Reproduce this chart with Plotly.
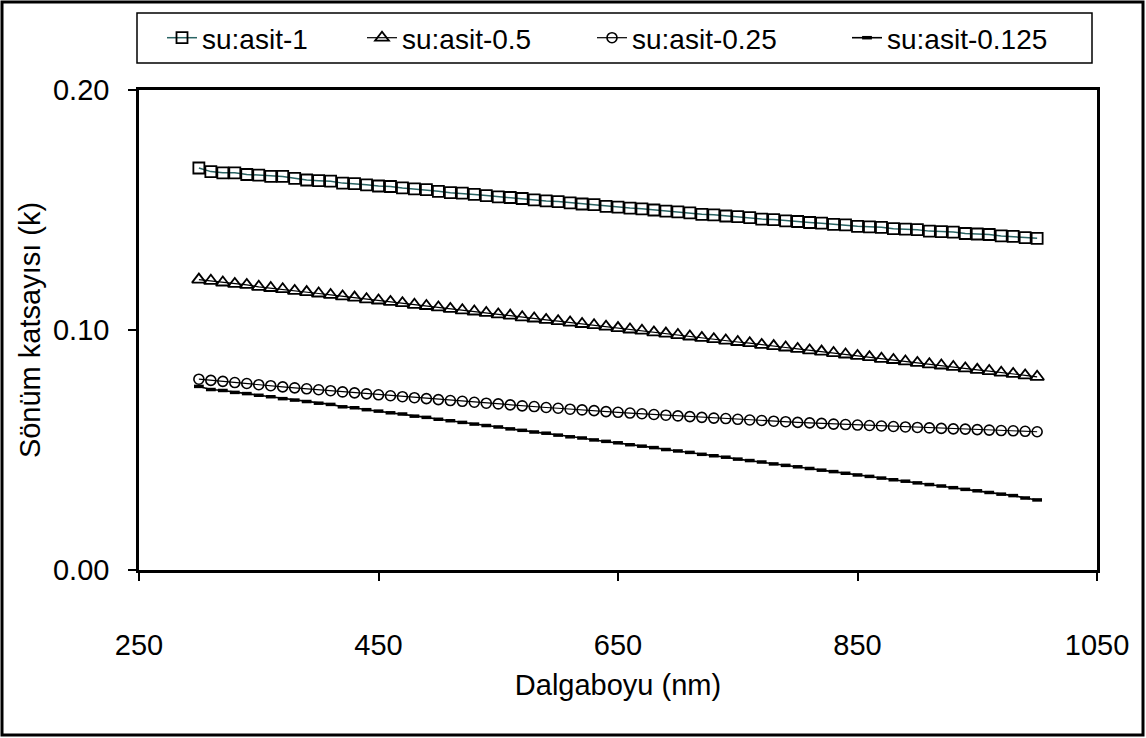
import plotly.graph_objects as go

wavelength = [300, 310, 320, 330, 340, 350, 360, 370, 380, 390, 400,
              410, 420, 430, 440, 450, 460, 470, 480, 490, 500,
              510, 520, 530, 540, 550, 560, 570, 580, 590, 600,
              610, 620, 630, 640, 650, 660, 670, 680, 690, 700,
              710, 720, 730, 740, 750, 760, 770, 780, 790, 800,
              810, 820, 830, 840, 850, 860, 870, 880, 890, 900,
              910, 920, 930, 940, 950, 960, 970, 980, 990, 1000]

k_asit_1 = [0.1675, 0.1660, 0.1655, 0.1655, 0.1648, 0.1645, 0.1640, 0.1640, 0.1632, 0.1625, 0.1622,
            0.1620, 0.1612, 0.1610, 0.1605, 0.1600, 0.1598, 0.1592, 0.1588, 0.1585, 0.1578,
            0.1572, 0.1570, 0.1565, 0.1560, 0.1555, 0.1552, 0.1548, 0.1542, 0.1538, 0.1535,
            0.1530, 0.1525, 0.1522, 0.1515, 0.1512, 0.1508, 0.1505, 0.1500, 0.1495, 0.1492,
            0.1488, 0.1482, 0.1480, 0.1475, 0.1472, 0.1468, 0.1462, 0.1460, 0.1455, 0.1452,
            0.1448, 0.1445, 0.1440, 0.1438, 0.1432, 0.1430, 0.1428, 0.1422, 0.1420, 0.1418,
            0.1412, 0.1410, 0.1408, 0.1402, 0.1400, 0.1398, 0.1392, 0.1390, 0.1385, 0.1382]

k_asit_05 = [0.1210, 0.1205, 0.1198, 0.1192, 0.1188, 0.1180, 0.1175, 0.1170, 0.1163, 0.1158, 0.1152,
             0.1146, 0.1140, 0.1135, 0.1128, 0.1123, 0.1117, 0.1112, 0.1105, 0.1100, 0.1094,
             0.1088, 0.1082, 0.1077, 0.1071, 0.1065, 0.1060, 0.1053, 0.1048, 0.1042, 0.1037,
             0.1031, 0.1025, 0.1020, 0.1014, 0.1008, 0.1002, 0.0997, 0.0990, 0.0985, 0.0979,
             0.0973, 0.0967, 0.0962, 0.0956, 0.0950, 0.0945, 0.0938, 0.0933, 0.0927, 0.0921,
             0.0915, 0.0910, 0.0904, 0.0898, 0.0892, 0.0887, 0.0880, 0.0875, 0.0869, 0.0863,
             0.0857, 0.0852, 0.0846, 0.0840, 0.0834, 0.0829, 0.0822, 0.0817, 0.0811, 0.0805]

k_asit_025 = [0.0795, 0.0790, 0.0786, 0.0781, 0.0777, 0.0772, 0.0768, 0.0763, 0.0759, 0.0755, 0.0751,
              0.0747, 0.0742, 0.0738, 0.0734, 0.0730, 0.0726, 0.0722, 0.0718, 0.0714, 0.0710,
              0.0706, 0.0703, 0.0699, 0.0695, 0.0692, 0.0688, 0.0684, 0.0681, 0.0677, 0.0674,
              0.0670, 0.0667, 0.0664, 0.0660, 0.0657, 0.0654, 0.0651, 0.0648, 0.0645, 0.0642,
              0.0639, 0.0636, 0.0633, 0.0631, 0.0628, 0.0625, 0.0623, 0.0620, 0.0618, 0.0615,
              0.0613, 0.0611, 0.0608, 0.0606, 0.0604, 0.0602, 0.0600, 0.0598, 0.0596, 0.0594,
              0.0592, 0.0590, 0.0588, 0.0587, 0.0585, 0.0583, 0.0581, 0.0580, 0.0578, 0.0576]

k_asit_0125 = [0.0765, 0.0752, 0.0748, 0.0740, 0.0735, 0.0728, 0.0722, 0.0714, 0.0708, 0.0702, 0.0695,
               0.0690, 0.0680, 0.0676, 0.0668, 0.0662, 0.0655, 0.0650, 0.0641, 0.0636, 0.0628,
               0.0622, 0.0615, 0.0608, 0.0602, 0.0596, 0.0588, 0.0582, 0.0575, 0.0570, 0.0562,
               0.0555, 0.0550, 0.0542, 0.0536, 0.0530, 0.0522, 0.0516, 0.0510, 0.0502, 0.0496,
               0.0490, 0.0482, 0.0476, 0.0470, 0.0462, 0.0456, 0.0450, 0.0442, 0.0436, 0.0430,
               0.0423, 0.0416, 0.0410, 0.0403, 0.0396, 0.0390, 0.0383, 0.0376, 0.0370, 0.0363,
               0.0356, 0.0350, 0.0343, 0.0336, 0.0330, 0.0323, 0.0316, 0.0310, 0.0300, 0.0292]

series_names = ["su:asit-1", "su:asit-0.5", "su:asit-0.25", "su:asit-0.125"]
x_ticks = [250, 450, 650, 850, 1050]
y_ticks = [0.0, 0.1, 0.2]

FONT = "Liberation Sans, Arial, sans-serif"

W, H = 1146, 738
ml, mr, mt, mb = 139, 49, 90, 168
pw, ph = W - ml - mr, H - mt - mb

def px_to_paper_x(px):
    return (px - ml) / pw

def px_to_paper_y(py):
    return (H - mb - py) / ph

fig = go.Figure()
fig.add_trace(go.Scatter(
    x=wavelength, y=k_asit_1, name=series_names[0], mode="lines+markers", legend="legend",
    line=dict(color="#2a6464", width=1.5),
    marker=dict(symbol="square-open", size=11, color="black", line=dict(width=1.8))))
fig.add_trace(go.Scatter(
    x=wavelength, y=k_asit_05, name=series_names[1], mode="lines+markers", legend="legend2",
    line=dict(color="black", width=1.2),
    marker=dict(symbol="triangle-up-open", size=12, color="black", line=dict(width=1.8))))
fig.add_trace(go.Scatter(
    x=wavelength, y=k_asit_025, name=series_names[2], mode="lines+markers", legend="legend3",
    line=dict(color="black", width=1.2),
    marker=dict(symbol="circle-open", size=10, color="black", line=dict(width=1.6))))
fig.add_trace(go.Scatter(
    x=wavelength, y=k_asit_0125, name=series_names[3], mode="lines+markers", legend="legend4",
    line=dict(color="black", width=1.6),
    marker=dict(symbol="line-ew-open", size=7, color="black", line=dict(width=3.5))))

legend_text_px = [205, 405, 635, 890]
legend_common = dict(
    orientation="h", xanchor="left", yanchor="middle",
    y=px_to_paper_y(38), bgcolor="rgba(0,0,0,0)", borderwidth=0,
    font=dict(family=FONT, size=28, color="black"),
)
legends = {}
for i, tx in enumerate(legend_text_px):
    key = "legend" if i == 0 else f"legend{i + 1}"
    legends[key] = dict(legend_common, x=px_to_paper_x(tx - 43))

fig.update_layout(
    width=W, height=H,
    margin=dict(l=ml, r=mr, t=mt, b=mb),
    paper_bgcolor="white", plot_bgcolor="white",
    font=dict(family=FONT, size=29, color="black"),
    showlegend=True,
    **legends,
    xaxis=dict(
        range=[250, 1050], tickvals=x_ticks, ticktext=[str(v) for v in x_ticks],
        showgrid=False, zeroline=False,
        showline=True, linecolor="black", linewidth=2.5, mirror=True,
        ticks="outside", ticklen=8, tickwidth=1.5, tickcolor="black",
        tickfont=dict(family=FONT, size=29),
        ticklabelstandoff=39,
        title=dict(text="Dalgaboyu (nm)", font=dict(family=FONT, size=29), standoff=16),
    ),
    yaxis=dict(
        range=[0, 0.2], tickvals=y_ticks, tickformat=".2f",
        showgrid=False, zeroline=False,
        showline=True, linecolor="black", linewidth=2.5, mirror=True,
        ticks="outside", ticklen=8, tickwidth=1.5, tickcolor="black",
        tickfont=dict(family=FONT, size=29),
        ticklabelstandoff=13,
        title=dict(text="Sönüm katsayısı (k)", font=dict(family=FONT, size=29), standoff=4),
    ),
    shapes=[
        dict(type="rect", xref="paper", yref="paper",
             x0=px_to_paper_x(2), x1=px_to_paper_x(1143),
             y0=px_to_paper_y(735), y1=px_to_paper_y(2),
             line=dict(color="black", width=3), fillcolor="rgba(0,0,0,0)", layer="below"),
        dict(type="rect", xref="paper", yref="paper",
             x0=px_to_paper_x(137), x1=px_to_paper_x(1092),
             y0=px_to_paper_y(63), y1=px_to_paper_y(13),
             line=dict(color="black", width=1.5), fillcolor="rgba(0,0,0,0)", layer="below"),
    ],
)

fig.write_html("out.html")
